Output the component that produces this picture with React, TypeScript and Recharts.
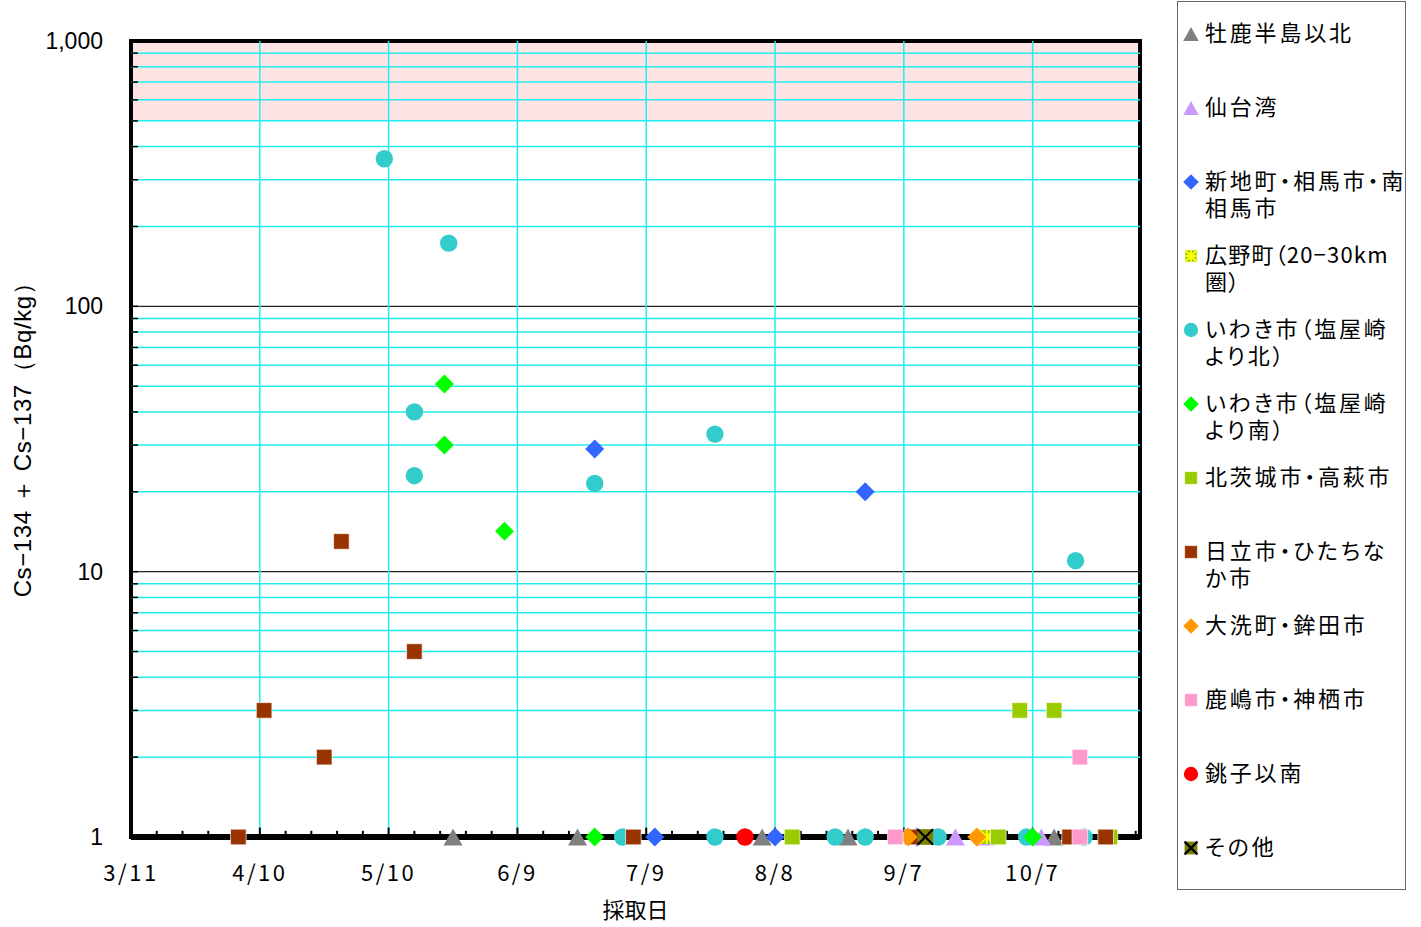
import React from 'react';
import { ScatterChart, Scatter, XAxis, YAxis, ReferenceArea, ReferenceLine, Label } from 'recharts';

type Pt = { d: number; v: number };

// x = days since 3/11, y = Cs-134 + Cs-137 (Bq/kg); values at 1 are plotted on the axis floor
const MAJOR_DAYS = [0, 30, 60, 90, 120, 150, 180, 210];
const MAJOR_DAY_LABELS = ['3/11', '4/10', '5/10', '6/9', '7/9', '8/8', '9/7', '10/7'];
const MINOR_DAYS = [6, 12, 18, 24, 36, 42, 48, 54, 66, 72, 78, 84, 96, 102, 108, 114, 126, 132, 138, 144, 156, 162, 168, 174, 186, 192, 198, 204, 216, 222, 228, 234];
const Y_MAJOR = [1, 10, 100, 1000];
const Y_MAJOR_LABELS = ['1', '10', '100', '1,000'];
const Y_MINOR = [2, 3, 4, 5, 6, 7, 8, 9, 20, 30, 40, 50, 60, 70, 80, 90, 200, 300, 400, 500, 600, 700, 800, 900];

const ojika: Pt[] = [{ d: 75, v: 1 }, { d: 104, v: 1 }, { d: 147, v: 1 }, { d: 167, v: 1 }, { d: 215, v: 1 }];
const sendaiBay: Pt[] = [{ d: 192, v: 1 }, { d: 199, v: 1 }, { d: 212, v: 1 }];
const soma: Pt[] = [{ d: 108, v: 29 }, { d: 171, v: 20 }, { d: 122, v: 1 }, { d: 150, v: 1 }, { d: 183, v: 1 }];
const hirono: Pt[] = [{ d: 199.3, v: 1 }];
const iwakiNorth: Pt[] = [
  { d: 59, v: 360 }, { d: 74, v: 173 }, { d: 66, v: 40 }, { d: 66, v: 23 }, { d: 108, v: 21.5 },
  { d: 136, v: 33 }, { d: 220, v: 11 }, { d: 114.5, v: 1 }, { d: 136, v: 1 }, { d: 164, v: 1 },
  { d: 171, v: 1 }, { d: 188, v: 1 }, { d: 208.6, v: 1 }, { d: 222, v: 1 },
];
const iwakiSouth: Pt[] = [{ d: 73, v: 51 }, { d: 73, v: 30 }, { d: 87, v: 14.2 }, { d: 108, v: 1 }, { d: 210, v: 1 }];
const kitaibaraki: Pt[] = [{ d: 207, v: 3 }, { d: 215, v: 3 }, { d: 154, v: 1 }, { d: 202, v: 1 }, { d: 228, v: 1 }];
const hitachi: Pt[] = [
  { d: 25, v: 1 }, { d: 31, v: 3 }, { d: 45, v: 2 }, { d: 49, v: 13 }, { d: 66, v: 5 },
  { d: 117, v: 1 }, { d: 182, v: 1 }, { d: 218.6, v: 1 }, { d: 227, v: 1 },
];
const oarai: Pt[] = [{ d: 181, v: 1 }, { d: 197, v: 1 }];
const kashima: Pt[] = [{ d: 221, v: 2 }, { d: 178, v: 1 }, { d: 221, v: 1 }];
const choshi: Pt[] = [{ d: 143, v: 1 }];
const others: Pt[] = [{ d: 185, v: 1 }];

// inward tick heights expressed as a multiplicative step on the log axis
const MINOR_TICK_TOP = 1.055;
const MAJOR_TICK_TOP = 1.085;

type Kind = 'triangle' | 'diamond' | 'circle' | 'square' | 'star' | 'xsquare';
type Series = { name: string; label: string; color: string; kind: Kind; data: Pt[]; tracking?: number };

const SERIES: Series[] = [
  { name: '牡鹿半島以北', label: '牡鹿半島以北', color: '#808080', kind: 'triangle', data: ojika },
  { name: '仙台湾', label: '仙台湾', color: '#CC99FF', kind: 'triangle', data: sendaiBay },
  { name: '新地町・相馬市・南相馬市', label: '新地町・相馬市・南\n相馬市', color: '#3366FF', kind: 'diamond', data: soma },
  { name: '広野町（20−30km圏）', label: '広野町（20−30km\n圏）', color: '#FFFF00', kind: 'star', data: hirono, tracking: 1.2 },
  { name: 'いわき市（塩屋崎より北）', label: 'いわき市（塩屋崎\nより北）', color: '#33CCCC', kind: 'circle', data: iwakiNorth },
  { name: 'いわき市（塩屋崎より南）', label: 'いわき市（塩屋崎\nより南）', color: '#00FF00', kind: 'diamond', data: iwakiSouth },
  { name: '北茨城市・高萩市', label: '北茨城市・高萩市', color: '#99CC00', kind: 'square', data: kitaibaraki },
  { name: '日立市・ひたちなか市', label: '日立市・ひたちな\nか市', color: '#993300', kind: 'square', data: hitachi },
  { name: '大洗町・鉾田市', label: '大洗町・鉾田市', color: '#FF9900', kind: 'diamond', data: oarai },
  { name: '鹿嶋市・神栖市', label: '鹿嶋市・神栖市', color: '#FF99CC', kind: 'square', data: kashima },
  { name: '銚子以南', label: '銚子以南', color: '#FF0000', kind: 'circle', data: choshi },
  { name: 'その他', label: 'その他', color: '#808000', kind: 'xsquare', data: others },
];

function Marker({ kind, color, cx, cy, k = 1 }: { kind: Kind; color: string; cx: number; cy: number; k?: number }) {
  if (kind === 'triangle') {
    const w = 9.5 * k, h = 8.5 * k;
    return <polygon points={`${cx},${cy - h} ${cx + w},${cy + h} ${cx - w},${cy + h}`} fill={color} />;
  }
  if (kind === 'diamond') {
    const r = 9.5 * k;
    return <polygon points={`${cx},${cy - r} ${cx + r},${cy} ${cx},${cy + r} ${cx - r},${cy}`} fill={color} />;
  }
  if (kind === 'circle') return <circle cx={cx} cy={cy} r={8.7 * k} fill={color} />;
  if (kind === 'square') {
    const s = 7.8 * k;
    return <rect x={cx - s} y={cy - s} width={2 * s} height={2 * s} fill={color} stroke="#ffffffaa" strokeWidth={1} />;
  }
  if (kind === 'star') {
    const s = 7 * k;
    return (
      <g>
        <rect x={cx - s} y={cy - s} width={2 * s} height={2 * s} fill="#99CC00" />
        <g stroke={color} strokeWidth={2}>
          <line x1={cx - s} y1={cy - s} x2={cx + s} y2={cy + s} />
          <line x1={cx - s} y1={cy + s} x2={cx + s} y2={cy - s} />
          <line x1={cx} y1={cy - s} x2={cx} y2={cy + s} />
          <line x1={cx - s} y1={cy} x2={cx + s} y2={cy} />
        </g>
      </g>
    );
  }
  const s = 7.8 * k;
  return (
    <g>
      <rect x={cx - s} y={cy - s} width={2 * s} height={2 * s} fill={color} />
      <g stroke="#000" strokeWidth={2.2}>
        <line x1={cx - s} y1={cy - s} x2={cx + s} y2={cy + s} />
        <line x1={cx - s} y1={cy + s} x2={cx + s} y2={cy - s} />
      </g>
    </g>
  );
}

function XTick(props: any) {
  const { x, y, payload } = props;
  const idx = MAJOR_DAYS.indexOf(payload.value);
  if (idx < 0) return <g />;
  return (
    <text x={x} y={y + 44} textAnchor="middle" fontSize={22} fontFamily="'Noto Sans CJK JP', sans-serif" fill="#000" letterSpacing={2.5}>
      {MAJOR_DAY_LABELS[idx]}
    </text>
  );
}

function YTick(props: any) {
  const { x, y, payload } = props;
  const idx = Y_MAJOR.indexOf(payload.value);
  return (
    <g>
      <line x1={x} y1={y} x2={x + 7} y2={y} stroke="#000" strokeWidth={1.5} />
      {idx >= 0 && (
        <text x={x - 28} y={y + 8} textAnchor="end" fontSize={23} fontFamily="'Liberation Sans', Arial, sans-serif" fill="#000">
          {Y_MAJOR_LABELS[idx]}
        </text>
      )}
    </g>
  );
}

function Legend() {
  return (
    <div
      style={{
        position: 'absolute', left: 1177, top: 1, width: 229, height: 889, boxSizing: 'border-box',
        border: '1.5px solid #666', background: '#fff',
      }}
    >
      {SERIES.map((s, i) => (
        <div key={s.name} style={{ position: 'absolute', left: 0, top: 32 + 74 * i - 15 }}>
          <svg width={24} height={30} style={{ position: 'absolute', left: 0, top: 0 }}>
            <Marker kind={s.kind} color={s.color} cx={13} cy={15} k={0.82} />
          </svg>
          <div
            style={{
              position: 'absolute', left: 27, top: 0, whiteSpace: 'pre', fontSize: 22, lineHeight: '27px',
              fontFamily: "'Noto Sans CJK JP', sans-serif", fontFeatureSettings: '"palt"',
              letterSpacing: s.tracking ?? 2.8, color: '#000', marginTop: -1,
            }}
          >
            {s.label}
          </div>
        </div>
      ))}
    </div>
  );
}

export default function App() {
  return (
    <div style={{ position: 'absolute', left: 0, top: 0, width: 1421, height: 927, background: '#fff' }}>
      <ScatterChart width={1421} height={927} margin={{ top: 41, right: 281, left: 0, bottom: 30 }}>
        <XAxis
          type="number"
          dataKey="d"
          domain={[0, 235]}
          ticks={MAJOR_DAYS}
          interval={0}
          tick={<XTick />}
          tickLine={false}
          axisLine={false}
          tickSize={0}
          tickMargin={0}
          height={60}
        >
          <Label
            content={(p: any) => {
              const vb = p.viewBox;
              return (
                <text x={vb.x + vb.width / 2} y={vb.y + vb.height + 21} textAnchor="middle" fontSize={22} fontFamily="'Noto Sans CJK JP', sans-serif" fill="#000">
                  採取日
                </text>
              );
            }}
          />
        </XAxis>
        <YAxis
          type="number"
          dataKey="v"
          scale="log"
          domain={[1, 1000]}
          ticks={[...Y_MAJOR, ...Y_MINOR]}
          interval={0}
          tick={<YTick />}
          tickLine={false}
          axisLine={false}
          tickSize={0}
          tickMargin={0}
          width={131}
        >
          <Label
            content={(p: any) => {
              const vb = p.viewBox;
              const cy = vb.y + vb.height / 2 - 5;
              return (
                <text x={22} y={cy} transform={`rotate(-90, 22, ${cy})`} textAnchor="middle" dominantBaseline="central" fontSize={24} letterSpacing={0.6} fontFamily="'Liberation Sans', Arial, sans-serif" fill="#000">
                  Cs−134 ＋ Cs−137（Bq/kg）
                </text>
              );
            }}
          />
        </YAxis>
        <ReferenceArea x1={0} x2={235} y1={500} y2={1000} fill="#FDE3E3" fillOpacity={1} stroke="none" />
        {Y_MINOR.map((v) => (
          <ReferenceLine key={'h' + v} y={v} stroke="#22EEEE" strokeWidth={1.5} />
        ))}
        {[10, 100].map((v) => (
          <ReferenceLine key={'H' + v} y={v} stroke="#222" strokeWidth={1.2} />
        ))}
        {MAJOR_DAYS.slice(1).map((d) => (
          <ReferenceLine key={'v' + d} x={d} stroke="#22EEEE" strokeWidth={1.5} />
        ))}
        <ReferenceArea x1={0} x2={235} y1={1} y2={1000} fill="none" stroke="#000" strokeWidth={4} />
        {MINOR_DAYS.map((d) => (
          <ReferenceLine key={'t' + d} segment={[{ x: d, y: 1 }, { x: d, y: MINOR_TICK_TOP }]} stroke="#000" strokeWidth={2} />
        ))}
        {MAJOR_DAYS.slice(1).map((d) => (
          <ReferenceLine key={'T' + d} segment={[{ x: d, y: 1 }, { x: d, y: MAJOR_TICK_TOP }]} stroke="#000" strokeWidth={2} />
        ))}
        <ReferenceLine y={1} stroke="#000" strokeWidth={6} />
        {SERIES.map((s) => (
          <Scatter
            key={s.name}
            name={s.name}
            data={s.data}
            isAnimationActive={false}
            shape={(p: any) => <Marker kind={s.kind} color={s.color} cx={p.cx} cy={p.cy} />}
          />
        ))}
      </ScatterChart>
      <Legend />
    </div>
  );
}
